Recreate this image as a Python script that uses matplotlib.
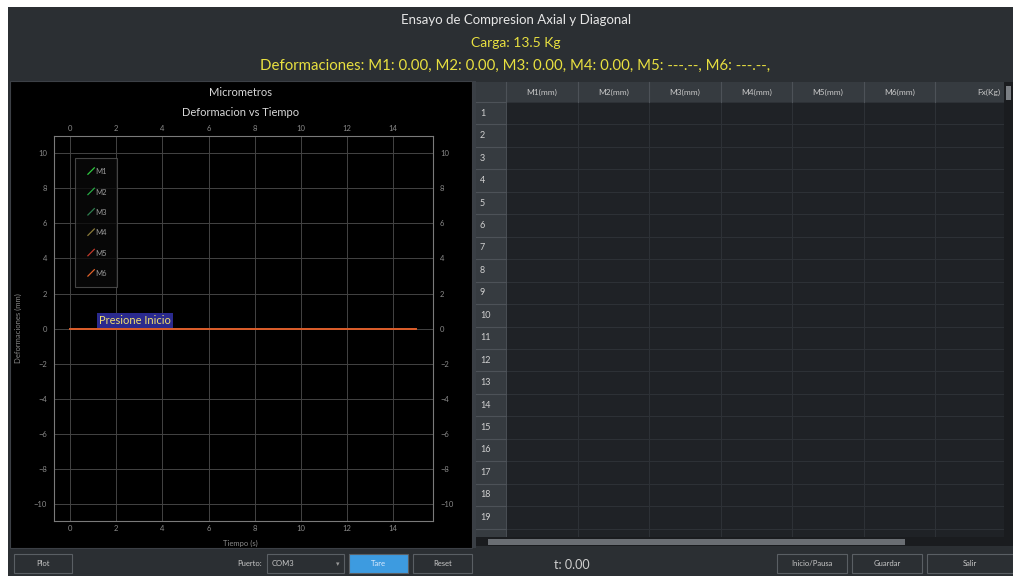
import numpy as np
import matplotlib.pyplot as plt
from matplotlib.patches import Rectangle
from matplotlib.lines import Line2D
from matplotlib.legend_handler import HandlerBase

plt.rcParams['font.family'] = ['Lato', 'DejaVu Sans']

# data
tiempo = [0, 15]
series = ['M1', 'M2', 'M3', 'M4', 'M5', 'M6']
deform = {
    'M1': [0.0, 0.0],
    'M2': [0.0, 0.0],
    'M3': [0.0, 0.0],
    'M4': [0.0, 0.0],
    'M5': [0.0, 0.0],
    'M6': [0.0, 0.0],
}
colores = ['#2ecc40', '#27a844', '#2e7d4f', '#8a7a3a', '#c0392b', '#e0622a']
xticks = [0, 2, 4, 6, 8, 10, 12, 14]
yticks = [-10, -8, -6, -4, -2, 0, 2, 4, 6, 8, 10]
col_labels = ['M1(mm)', 'M2(mm)', 'M3(mm)', 'M4(mm)', 'M5(mm)', 'M6(mm)', 'Fx(Kg)']
row_labels = [str(i) for i in range(1, 21)]
carga = 13.5
lecturas = ['0.00', '0.00', '0.00', '0.00', '---.--', '---.--']

W, H = 1013, 576
fig = plt.figure(figsize=(W / 100, H / 100), dpi=100)
fig.patch.set_facecolor('white')

ui = fig.add_axes([0, 0, 1, 1])
ui.set_xlim(0, W)
ui.set_ylim(H, 0)
ui.axis('off')


def box(x0, y0, x1, y1, fc, ec='none', lw=0.8, z=1):
    ui.add_patch(Rectangle((x0, y0), x1 - x0, y1 - y0, facecolor=fc,
                           edgecolor=ec, lw=lw, zorder=z))


def txt(x, y, s, size=6, color='#c8c8c8', ha='center', **kw):
    ui.text(x, y, s, fontsize=size, color=color, ha=ha, va='center', zorder=5, **kw)


# window background and header
box(8, 7, W, H, '#2b2f33')
txt(516, 20, 'Ensayo de Compresion Axial y Diagonal', size=9.5, color='#e6e6e6')
txt(516, 43, f'Carga: {carga} Kg', size=10, color='#e8e040')
defs = ', '.join(f'{s}: {v}' for s, v in zip(series, lecturas))
txt(515, 66, f'Deformaciones: {defs},', size=10.8, color='#e8e040')

# plot panel
box(10, 81, 472, 548, 'black', ec='#3c4046')
box(473, 81, 476, 548, '#3a3f45')
txt(241, 93, 'Micrometros', size=8, color='#d8d8d8')
txt(241, 112, 'Deformacion vs Tiempo', size=8, color='#d8d8d8')
txt(240, 543, 'Tiempo (s)', size=5.5, color='#8a8a8a')
txt(18, 328, 'Deformaciones (mm)', size=5.5, color='#8a8a8a', rotation=90)

# table panel
tx0, tx1, ty0 = 476, 1004, 82
hdr_h, row_h, rh_w = 20, 22.45, 30
col_w = 71.5
box(tx0, ty0, tx1, 546, '#1f2226')
box(tx0, ty0, tx1, ty0 + hdr_h, '#363b40')
box(tx0, ty0, tx0 + rh_w, 538, '#363b40')
for i, lab in enumerate(col_labels):
    x0 = tx0 + rh_w + i * col_w
    ui.plot([x0, x0], [ty0, 538], color='#4a4f55' if i == 0 else '#2e3237', lw=0.7, zorder=2)
    ui.plot([x0, x0], [ty0, ty0 + hdr_h], color='#4d5258', lw=0.8, zorder=3)
    if i < len(col_labels) - 1:
        txt(x0 + col_w / 2, ty0 + hdr_h / 2, lab, size=6)
    else:
        txt(x0 + col_w - 6, ty0 + hdr_h / 2, lab, size=6, ha='right')
for j, lab in enumerate(row_labels):
    y0 = ty0 + hdr_h + j * row_h
    if y0 > 538:
        break
    ui.plot([tx0, tx0 + rh_w], [y0, y0], color='#4d5258', lw=0.8, zorder=3)
    ui.plot([tx0 + rh_w, tx1], [y0, y0], color='#2e3237', lw=0.7, zorder=2)
    if y0 + row_h < 540:
        txt(tx0 + 4, y0 + row_h / 2, lab, size=6.5, color='#d0d0d0', ha='left')
# scrollbars
box(tx0, 537, 1004, 546, '#1a1c1f', z=4)
box(488, 539, 905, 545, '#6a6e73', z=4)
box(1004, 82, W, 546, '#1a1c1f', z=4)
box(1006, 86, 1011, 100, '#7a7e83', z=4)


# bottom bar
def button(x0, x1, label, fc='#2b2f33', tc='#c8c8c8'):
    box(x0, 554, x1, 573, fc, ec='#5a5f64', lw=0.8, z=3)
    txt((x0 + x1) / 2, 563.5, label, size=5.5, color=tc)


button(14, 72, 'Plot')
txt(262, 563.5, 'Puerto:', size=5.5, ha='right')
button(267, 344, '')
txt(272, 563.5, 'COM3', size=5.5, ha='left')
txt(338, 563.5, '\u25be', size=5, color='#999999')
button(349, 408, 'Tare', fc='#3d9be0', tc='#dcecff')
button(413, 472, 'Reset')
txt(572, 565, 't: 0.00', size=9, color='#d0d0d0')
button(777, 847, 'Inicio/Pausa')
button(852, 922, 'Guardar')
button(927, 1013, 'Salir')

# main chart
ax = fig.add_axes([54 / W, 1 - 521 / H, (433 - 54) / W, (521 - 136) / H])
ax.set_facecolor('black')
for s, c in zip(series, colores):
    ax.plot(tiempo, deform[s], color=c, lw=1.2, label=s)
ax.set_xlim(-0.7, 15.73)
ax.set_ylim(-10.95, 10.97)
ax.set_xticks(xticks)
ax.set_yticks(yticks)
ax.grid(True, color='#444444', lw=0.7)
for sp in ax.spines.values():
    sp.set_color('#7a7a7a')
    sp.set_linewidth(0.8)
ax.tick_params(axis='both', length=0, labelsize=5.5, colors='#8a8a8a', pad=3,
               top=True, labeltop=True, right=True, labelright=True)
ax.tick_params(axis='y', pad=5)

ax.text(2.8, 0.45, 'Presione Inicio', color='#f0e070', fontsize=8, ha='center', va='center',
        bbox=dict(facecolor='#2a2a8e', edgecolor='none', pad=1.5), zorder=6)


class DiagHandler(HandlerBase):
    def create_artists(self, legend, orig_handle, xdescent, ydescent, width, height,
                       fontsize, trans):
        ln = Line2D([-xdescent + width * 0.3, -xdescent + width],
                    [-ydescent, -ydescent + height * 1.2],
                    color=orig_handle.get_color(), lw=0.9, transform=trans)
        return [ln]


handles, labels = ax.get_legend_handles_labels()
leg = ax.legend(handles, labels, loc='upper left', bbox_to_anchor=(0.055, 0.943),
                borderaxespad=0, fontsize=5.5, labelspacing=1.75, handlelength=1.2,
                handletextpad=0.1, borderpad=1.35, frameon=True, fancybox=False,
                handler_map={Line2D: DiagHandler()})
leg.get_frame().set_facecolor('#0a0a0a')
leg.get_frame().set_edgecolor('#555555')
leg.get_frame().set_linewidth(0.8)
for t in leg.get_texts():
    t.set_color('#9a9a9a')

fig.savefig('out.png', dpi=100, facecolor=fig.get_facecolor())
